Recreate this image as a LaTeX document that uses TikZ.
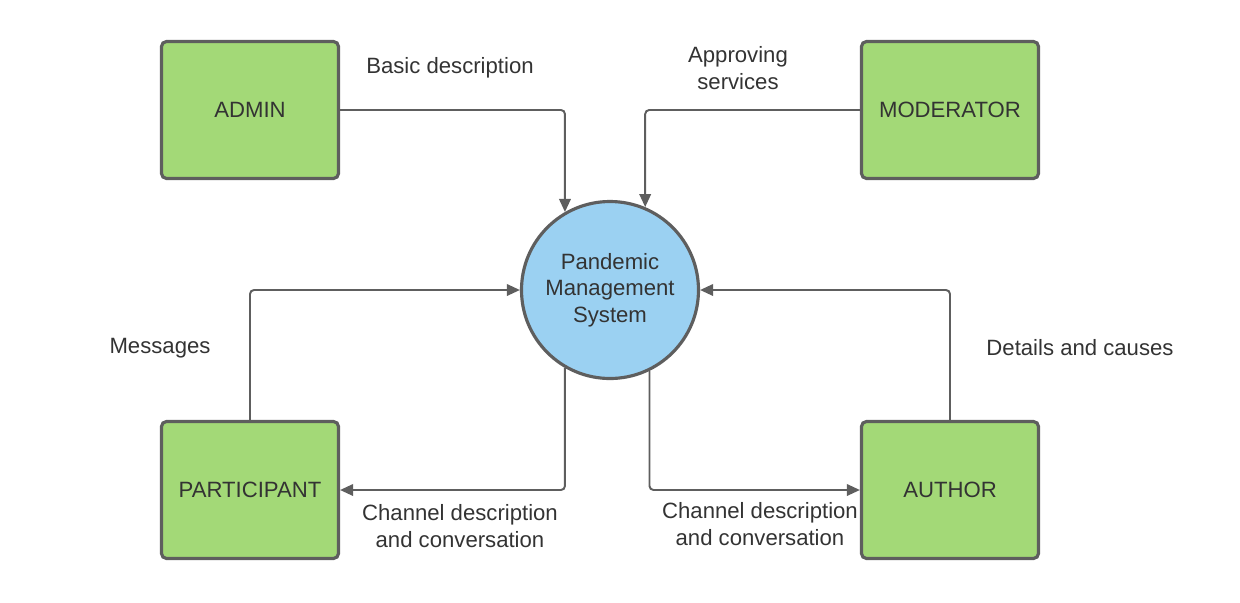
\documentclass[tikz,border=0pt]{standalone}
\usepackage{fontspec}
\setmainfont{Liberation Sans}
\usepackage{tikz}
\usetikzlibrary{calc,arrows.meta}
\definecolor{boxgreen}{HTML}{A3D977}
\definecolor{circblue}{HTML}{9BD1F2}
\definecolor{edgegray}{HTML}{5E5E5E}
\definecolor{txtgray}{HTML}{333333}
\begin{document}
\begin{tikzpicture}[font=\fontsize{6.3}{7.6}\selectfont, text=txtgray,
    ent/.style={draw=edgegray, fill=boxgreen, line width=.9pt, rounded corners=.05cm,
      minimum width=1.77cm, minimum height=1.37cm, inner sep=0pt},
    proc/.style={draw=edgegray, fill=circblue, line width=.9pt, circle,
      minimum size=1.77cm, inner sep=0pt, align=center},
    flow/.style={draw=edgegray, line width=.55pt, rounded corners=.04cm,
      -{Triangle[length=1.3mm,width=1.15mm]}},
    lbl/.style={align=center, inner sep=0pt}]
      \useasboundingbox (0,0) rectangle (12.4,6.02);
      \node (AD) at (2.5,4.92) [ent] {ADMIN};
      \node (MO) at (9.5,4.92) [ent] {MODERATOR};
      \node (PA) at (2.5,1.12) [ent] {PARTICIPANT};
      \node (AU) at (9.5,1.12) [ent] {AUTHOR};
      \node (S) at (6.1,3.12) [proc] {Pandemic\\Management\\System};
      \node (l1) at (4.5,5.34) [lbl] {Basic description};
      \node (l2) at (7.38,5.34) [lbl] {Approving\\services};
      \node (l3) at (1.6,2.54) [lbl] {Messages};
      \node (l4) at (10.8,2.54) [lbl] {Details and causes};
      \node (l5) at (4.6,0.76) [lbl] {Channel description\\and conversation};
      \node (l6) at (7.6,0.78) [lbl] {Channel description\\and conversation};
      \draw[flow] (AD.east) -| (S.120);
      \draw[flow] (MO.west) -| (S.67);
      \draw[flow] (PA.north) |- (S.west);
      \draw[flow] (AU.north) |- (S.east);
      \draw[flow] (S.240) |- (PA.east);
      \draw[flow] (S.296) |- (AU.west);
    \end{tikzpicture}
\end{document}
